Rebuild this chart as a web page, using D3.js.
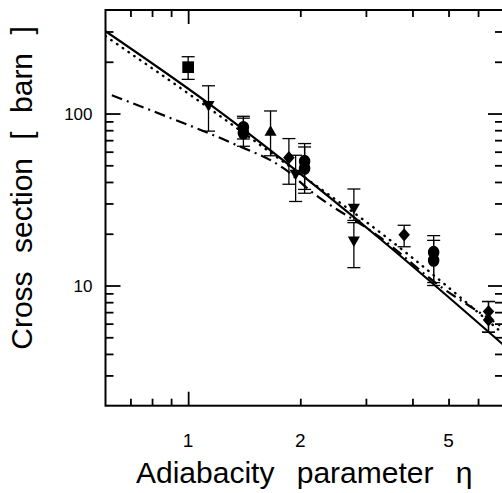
<!DOCTYPE html>
<html>
<head>
<meta charset="utf-8">
<script src="https://cdn.jsdelivr.net/npm/d3@7/dist/d3.min.js"></script>
<style>
  html, body { margin: 0; padding: 0; background: #fff; }
  svg { display: block; }
  text { font-family: "Liberation Sans", Arial, sans-serif; fill: #000; }
</style>
</head>
<body>
<svg id="chart" width="502" height="493"></svg>
<script>
// ---------- data ----------
const xMajorTicks = [1];
const xMinorTicks = [0.7, 0.8, 0.9, 2, 3, 4, 5, 6];
const xTickLabels = [1, 2, 5];
const yMajorTicks = [10, 100];
const yMinorTicks = [3, 4, 5, 6, 7, 8, 9, 20, 30, 40, 50, 60, 70, 80, 90, 200, 300];
const yTickLabels = [10, 100];

const squareX = [1.0];
const squareY = [186];
const squareLo = [158];
const squareHi = [214];

const downX = [1.134, 1.943, 2.785, 2.785];
const downY = [113, 44.9, 28.5, 18.4];
const downLo = [79, 30.8, 23.9, 12.7];
const downHi = [145, 57.2, 36.4, 23.2];

const upX = [1.664];
const upY = [77.8];
const upLo = [56.8];
const upHi = [103.5];

const circleX = [1.407, 1.407, 2.054, 2.054, 4.56, 4.56];
const circleY = [83, 77, 52.8, 48, 15.6, 14.0];
const circleLo = [71.1, 64.5, 36.2, 34.4, 10.4, 10.0];
const circleHi = [96.4, 94, 66.9, 63.9, 19.5, 18.3];

const diamondX = [1.864, 3.8, 6.4, 6.4];
const diamondY = [55.4, 19.7, 7.06, 6.31];
const diamondLo = [38.8, 16.8, 5.35, 5.35];
const diamondHi = [71.5, 22.4, 8.07, 8.07];

const solidX = [0.6, 1.132, 1.554, 3.272, 7.0];
const solidY = [301, 114.8, 68.4, 18.7, 4.54];

const dottedX = [0.6, 1.132, 2.0, 3.272, 7.0];
const dottedY = [282, 108.3, 44.4, 20.4, 5.25];

const dashdotX = [0.624, 0.889, 1.29, 1.834, 2.119, 3.272, 4.84, 5.72, 7.0];
const dashdotY = [127.8, 94.8, 68.3, 46.8, 35.8, 19.1, 9.6, 7.55, 5.7];

// ---------- layout ----------
const L = 105.5, R = 503, T = 10, B = 405.7;
const svg = d3.select("#chart");
const FONT = "'Liberation Sans', Arial, sans-serif";

const x = d3.scaleLog().domain([0.6, 7]).range([L, R]);
const y = d3.scaleLog().domain([2, 400]).range([B, T]);

svg.append("defs").append("clipPath").attr("id", "clip")
  .append("rect").attr("x", L).attr("y", T).attr("width", R - L).attr("height", B - T);

// ---------- axes (ticks inward) ----------
function styleAxis(g) {
  g.select(".domain").remove();
  g.selectAll(".tick line").attr("stroke", "#000").attr("stroke-width", 1.8);
}
function addAxis(maker, scale, vals, size, transform) {
  svg.append("g").attr("transform", transform)
    .call(maker(scale).tickValues(vals).tickSizeInner(-size).tickSizeOuter(0).tickFormat(""))
    .call(styleAxis);
}
addAxis(d3.axisBottom, x, xMajorTicks, 14, `translate(0,${B})`);
addAxis(d3.axisBottom, x, xMinorTicks, 7, `translate(0,${B})`);
addAxis(d3.axisTop, x, xMajorTicks, 14, `translate(0,${T})`);
addAxis(d3.axisTop, x, xMinorTicks, 7, `translate(0,${T})`);
addAxis(d3.axisLeft, y, yMajorTicks, 15, `translate(${L},0)`);
addAxis(d3.axisLeft, y, yMinorTicks, 8, `translate(${L},0)`);
addAxis(d3.axisRight, y, yMajorTicks, 15, `translate(${R},0)`);
addAxis(d3.axisRight, y, yMinorTicks, 8, `translate(${R},0)`);

// tick labels
svg.append("g").selectAll("text").data(xTickLabels).join("text")
  .attr("x", d => x(d)).attr("y", 446.5)
  .attr("text-anchor", "middle")
  .attr("font-family", FONT).attr("font-size", 19)
  .style("font-size", "19px")
  .text(d => d3.format("d")(d));

svg.append("g").selectAll("text").data(yTickLabels).join("text")
  .attr("x", 92.5).attr("y", d => y(d) + 6)
  .attr("text-anchor", "end")
  .attr("font-family", FONT).attr("font-size", 17)
  .style("font-size", "17px")
  .text(d => d3.format("d")(d));

// frame
svg.append("rect").attr("x", L).attr("y", T).attr("width", R - L).attr("height", B - T)
  .attr("fill", "none").attr("stroke", "#000").attr("stroke-width", 2);

// titles
svg.append("text").attr("x", 136).attr("y", 483)
  .style("font-size", "30px").style("word-spacing", "14px")
  .text("Adiabacity parameter η");
svg.append("text").attr("transform", "translate(32,188) rotate(-90)")
  .attr("text-anchor", "middle")
  .style("font-size", "30px").style("word-spacing", "10px")
  .text("Cross section [ barn ]");

// ---------- curves ----------
const plot = svg.append("g").attr("clip-path", "url(#clip)");
function curve(xs, ys) {
  return d3.line().x(d => x(d[0])).y(d => y(d[1])).curve(d3.curveMonotoneX)(xs.map((v, i) => [v, ys[i]]));
}
plot.append("path").attr("d", curve(solidX, solidY))
  .attr("fill", "none").attr("stroke", "#000").attr("stroke-width", 2.2);
plot.append("path").attr("d", curve(dottedX, dottedY))
  .attr("fill", "none").attr("stroke", "#000").attr("stroke-width", 2.4)
  .attr("stroke-linecap", "round").attr("stroke-dasharray", "0.5 6.5");
plot.append("path").attr("d", curve(dashdotX, dashdotY))
  .attr("fill", "none").attr("stroke", "#000").attr("stroke-width", 2.2)
  .attr("stroke-dasharray", "11 5 2 5");

// ---------- data points ----------
const pts = svg.append("g");
function errorBars(xs, ys, lo, hi) {
  xs.forEach((v, i) => {
    const px = x(v);
    pts.append("line").attr("x1", px).attr("x2", px).attr("y1", y(lo[i])).attr("y2", y(hi[i]))
      .attr("stroke", "#000").attr("stroke-width", 1.3);
    [lo[i], hi[i]].forEach(e => {
      pts.append("line").attr("x1", px - 6.5).attr("x2", px + 6.5).attr("y1", y(e)).attr("y2", y(e))
        .attr("stroke", "#000").attr("stroke-width", 1.3);
    });
  });
}
function markers(xs, ys, symbol, size, extra) {
  xs.forEach((v, i) => {
    pts.append("path").attr("d", d3.symbol().type(symbol).size(size)())
      .attr("transform", `translate(${x(v)},${y(ys[i])}) ${extra}`)
      .attr("fill", "#000");
  });
}
errorBars(squareX, squareY, squareLo, squareHi);
errorBars(downX, downY, downLo, downHi);
errorBars(upX, upY, upLo, upHi);
errorBars(circleX, circleY, circleLo, circleHi);
errorBars(diamondX, diamondY, diamondLo, diamondHi);

markers(squareX, squareY, d3.symbolSquare, 137, "");
markers(downX, downY, d3.symbolTriangle, 64, "rotate(180)");
markers(upX, upY, d3.symbolTriangle, 64, "");
markers(circleX, circleY, d3.symbolCircle, 105, "scale(1,1.12)");
markers(diamondX, diamondY, d3.symbolSquare, 66, "scale(1,1.14) rotate(45)");
</script>
</body>
</html>
